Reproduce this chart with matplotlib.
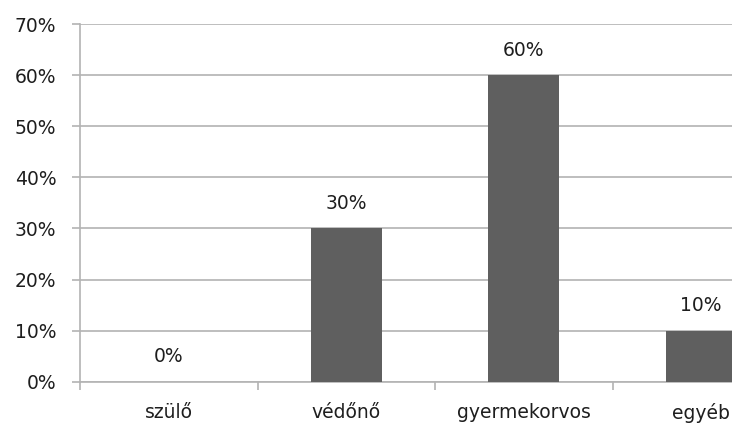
import matplotlib.pyplot as plt
from matplotlib.ticker import FixedLocator

categories = ['szülő', 'védőnő', 'gyermekorvos', 'egyéb']
values = [0, 30, 60, 10]
y_ticks = [0, 10, 20, 30, 40, 50, 60, 70]

bar_color = '#5f5f5f'
grid_color = '#b3b3b3'
text_color = '#1e1e1e'

plt.rcParams['font.family'] = ['DejaVu Sans']

fig = plt.figure(figsize=(7.32, 4.25), dpi=100)
# axes runs past the right edge, as in the original (last category is cut off)
ax = fig.add_axes([80 / 732, 43.3 / 425, 710 / 732, 357.5 / 425])

x = list(range(len(categories)))
bars = ax.bar(x, values, width=0.4, color=bar_color, zorder=3)

for xi, v in zip(x, values):
    ax.annotate(f'{v}%', (xi, v), xytext=(0, 18), textcoords='offset points',
                ha='center', va='center', fontsize=13.5, color=text_color)

ax.set_xlim(-0.5, len(categories) - 0.5)
ax.set_ylim(0, 70)
ax.set_yticks(y_ticks)
ax.set_yticklabels([f'{t}%' for t in y_ticks])
ax.yaxis.grid(True, color=grid_color, linewidth=1.2, zorder=0)

ax.set_xticks(x)
ax.set_xticklabels(categories)
ax.xaxis.set_minor_locator(FixedLocator([i + 0.5 for i in range(-1, len(categories))]))
ax.tick_params(axis='x', which='major', length=0, pad=15, labelsize=13.5, labelcolor=text_color)
ax.tick_params(axis='x', which='minor', length=6, width=1.2, color=grid_color)
ax.tick_params(axis='y', length=6, width=1.2, color=grid_color, pad=11,
               labelsize=13.5, labelcolor=text_color)

for side in ['top', 'right']:
    ax.spines[side].set_visible(False)
for side in ['left', 'bottom']:
    ax.spines[side].set_color(grid_color)
    ax.spines[side].set_linewidth(1.2)

fig.savefig('out.png', dpi=100)
